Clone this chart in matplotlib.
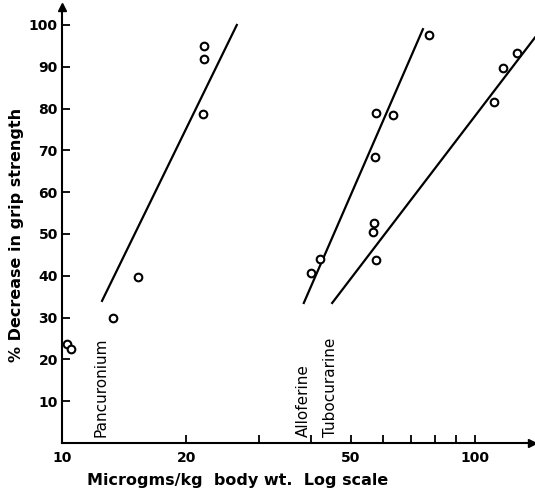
import matplotlib
matplotlib.use("Agg")
import matplotlib.pyplot as plt
from matplotlib.ticker import FixedLocator, NullFormatter, FixedFormatter

# ---- data ----
panc_dose = [10.3, 10.5, 13.3, 15.3, 21.9, 22.1, 22.1]
panc_resp = [23.8, 22.6, 30.0, 39.7, 78.8, 91.8, 95.0]
panc_line_dose = [12.5, 26.5]
panc_line_resp = [34.0, 100.0]

allo_dose = [40.1, 42.2, 57.3, 57.5, 63.3, 77.4]
allo_resp = [40.7, 44.0, 68.4, 79.0, 78.5, 97.6]
allo_line_dose = [38.5, 74.8]
allo_line_resp = [33.5, 99.0]

tubo_dose = [56.6, 57.0, 57.5, 111.2, 116.9, 126.5]
tubo_resp = [50.4, 52.6, 43.8, 81.6, 89.7, 93.3]
tubo_line_dose = [45.1, 139.7]
tubo_line_resp = [33.5, 97.0]

drug_labels = ["Pancuronium", "Alloferine", "Tubocurarine"]
label_dose = [12.43, 38.35, 44.8]

y_ticks = [10, 20, 30, 40, 50, 60, 70, 80, 90, 100]
x_major = [10, 20, 50, 100]
x_minor = [30, 40, 60, 70, 80, 90]

xlabel = "Microgms/kg  body wt.  Log scale"
ylabel = "% Decrease in grip strength"

fig = plt.figure(figsize=(5.35, 4.97), dpi=100)
ax = fig.add_axes([62/535, 54/497, (532-62)/535, (490-54)/497])
ax.set_xscale("log")
ax.set_xlim(10, 137.4)
ax.set_ylim(0, 104.3)

for d, r, ld, lr in [(panc_dose, panc_resp, panc_line_dose, panc_line_resp),
                     (allo_dose, allo_resp, allo_line_dose, allo_line_resp),
                     (tubo_dose, tubo_resp, tubo_line_dose, tubo_line_resp)]:
    ax.plot(ld, lr, color="black", lw=1.6, clip_on=False)
    ax.plot(d, r, linestyle="none", marker="o", markersize=5.5,
            markerfacecolor="white", markeredgecolor="black",
            markeredgewidth=1.5, clip_on=False)

for name, xd in zip(drug_labels, label_dose):
    ax.text(xd, 1.5, name, rotation=90, ha="center", va="bottom",
            fontsize=11, family="DejaVu Sans")

for s in ["top", "right"]:
    ax.spines[s].set_visible(False)
for s in ["left", "bottom"]:
    ax.spines[s].set_linewidth(1.5)

ax.plot(1, 0, ">k", markersize=6, transform=ax.transAxes, clip_on=False)
ax.plot(0, 1, "^k", markersize=6, transform=ax.transAxes, clip_on=False)

ax.yaxis.set_major_locator(FixedLocator(y_ticks))
ax.set_yticklabels([str(v) for v in y_ticks])
ax.tick_params(axis="y", direction="in", length=6, width=1.3, labelsize=10, pad=3)

ax.xaxis.set_major_locator(FixedLocator(x_major))
ax.xaxis.set_major_formatter(FixedFormatter([str(v) for v in x_major]))
ax.xaxis.set_minor_locator(FixedLocator(x_minor))
ax.xaxis.set_minor_formatter(NullFormatter())
ax.tick_params(axis="x", which="both", direction="in", length=6, width=1.3,
               labelsize=10, pad=6)

for lab in ax.get_xticklabels() + ax.get_yticklabels():
    lab.set_fontweight("bold")

ax.set_xlabel(xlabel, fontsize=11.5, fontweight="bold")
ax.set_ylabel(ylabel, fontsize=11.5, fontweight="bold")
ax.xaxis.set_label_coords(0.374, -0.085)
ax.yaxis.set_label_coords(-0.096, 0.477)
ax.xaxis.label.set_va("center")
ax.yaxis.label.set_va("center")

fig.savefig("out.png", dpi=100)
